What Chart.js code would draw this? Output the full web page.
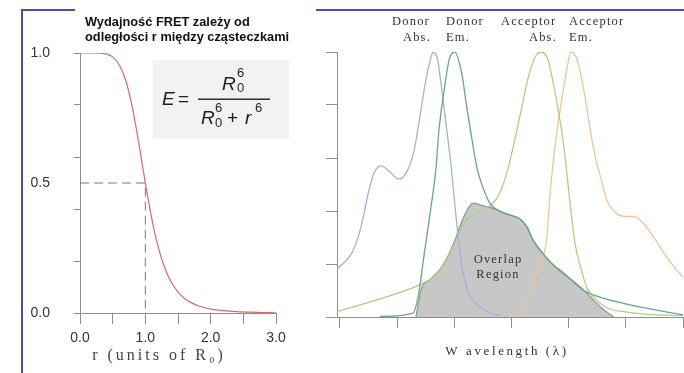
<!DOCTYPE html>
<html><head><meta charset="utf-8">
<script src="https://cdn.jsdelivr.net/npm/chart.js@4"></script>
<style>
html,body{margin:0;padding:0;background:#fff;width:684px;height:373px;overflow:hidden}
#left{position:absolute;left:0;top:0}
#right{position:absolute;left:316px;top:0}
</style></head><body>
<canvas id="left" width="320" height="373"></canvas>
<canvas id="right" width="368" height="373"></canvas>
<script>
// ---------- Left panel data (FRET efficiency vs distance) ----------
const effR = [0,0.2,0.3,0.4,0.5,0.6,0.7,0.8,0.9,1.0,1.1,1.2,1.3,1.4,1.5,1.6,1.7,1.8,1.9,2.0,2.2,2.4,2.6,2.8,3.0];
const effE = [1,1,0.999,0.996,0.985,0.955,0.895,0.792,0.653,0.5,0.361,0.251,0.172,0.117,0.081,0.056,0.040,0.029,0.021,0.015,0.009,0.005,0.003,0.002,0.001];
const halfX = [0,1,1];
const halfY = [0.5,0.5,0];
const leftXTicks = [0,0.5,1,1.5,2,2.5,3];
const leftXTickLabels = ['0.0','','1.0','','2.0','','3.0'];
const leftYTicks = [0,0.2,0.4,0.5,0.6,0.8,1];
const leftYTickLabels = ['0.0','','','0.5','','','1.0'];
const leftTitle = ['Wydajność FRET zależy od','odległości r między cząsteczkami'];
const leftXTitle = 'r (units of R\u2080)';

// ---------- Right panel data (spectra) ----------
const donorAbsX = [-0.05,0.23,0.37,0.51,0.59,0.72,0.86,1.03,1.15,1.29,1.38,1.50,1.57,1.63,1.68,1.71,1.82,1.94,2.05,2.15,2.27,2.40,2.50,2.62,2.80];
const donorAbsY = [0.18,0.25,0.34,0.48,0.54,0.57,0.55,0.52,0.54,0.62,0.73,0.89,0.96,1.0,0.99,0.97,0.79,0.58,0.34,0.17,0.08,0.045,0.03,0.015,0.005];
const donorEmX = [0.7,1.28,1.38,1.47,1.59,1.68,1.73,1.82,1.91,2.01,2.13,2.22,2.31,2.40,2.50,2.62,2.71,2.97,3.15,3.27,3.38,3.67,3.92,4.27,4.62,5.09,5.54,6.0];
const donorEmY = [0.002,0.015,0.09,0.23,0.41,0.56,0.70,0.85,0.97,1.0,0.92,0.79,0.67,0.56,0.49,0.43,0.41,0.385,0.37,0.34,0.29,0.21,0.165,0.10,0.07,0.045,0.026,0.008];
const accAbsX = [-0.05,0.80,1.38,1.68,1.85,2.03,2.19,2.45,2.68,2.80,2.94,3.06,3.18,3.29,3.41,3.52,3.64,3.76,3.88,3.95,4.02,4.11,4.22,4.32,4.44,4.67,4.97,5.37,6.0];
const accAbsY = [0.02,0.075,0.12,0.16,0.21,0.29,0.36,0.40,0.43,0.47,0.56,0.67,0.79,0.90,0.98,1.0,0.97,0.85,0.70,0.58,0.44,0.28,0.18,0.11,0.075,0.035,0.02,0.01,0.005];
const accEmX = [2.90,3.11,3.24,3.38,3.50,3.62,3.67,3.76,3.85,3.94,3.99,4.04,4.15,4.27,4.39,4.48,4.57,4.67,4.79,4.97,5.14,5.32,5.49,5.67,5.84,6.0];
const accEmY = [0.0,0.02,0.06,0.13,0.20,0.30,0.45,0.64,0.78,0.90,0.96,1.0,0.97,0.85,0.69,0.59,0.52,0.44,0.40,0.38,0.38,0.35,0.30,0.24,0.19,0.15];
const overlapX = [1.33,1.38,1.43,1.57,1.75,1.89,2.03,2.15,2.33,2.50,2.68,2.83,2.97,3.15,3.27,3.38,3.67,3.92,4.11,4.27,4.41,4.55,4.69,4.79];
const overlapY = [0,0.06,0.11,0.14,0.18,0.23,0.30,0.37,0.43,0.42,0.41,0.395,0.385,0.37,0.34,0.29,0.21,0.16,0.13,0.10,0.07,0.04,0.015,0];
const rightXTicks = [0,1,2,3,4,5,6];
const rightYTicks = [0,0.2,0.4,0.6,0.8,1];
const curveLabels = [
  {text:'Donor', x:76, y:25, align:'left'},
  {text:'Abs.', x:115, y:41, align:'right'},
  {text:'Donor', x:130, y:25, align:'left'},
  {text:'Em.', x:130, y:41, align:'left'},
  {text:'Acceptor', x:185, y:25, align:'left'},
  {text:'Abs.', x:241, y:41, align:'right'},
  {text:'Acceptor', x:253, y:25, align:'left'},
  {text:'Em.', x:253, y:41, align:'left'}
];
const overlapLabel = ['Overlap','Region'];
const rightXTitle = 'W avelength (\u03bb)';

const pts = (xs, ys) => xs.map((x, i) => ({x, y: ys[i]}));
const AX = '#8e8e8e';
const FRAME = '#4a4ab0';

// ---------- Left chart ----------
const leftDeco = {
  id: 'leftDeco',
  beforeDraw(chart) {
    const c = chart.ctx;
    c.save();
    c.fillStyle = FRAME;
    c.fillRect(21, 9, 2, 364);
    c.fillRect(21, 9, 54, 2);
    c.fillStyle = '#f2f2f2';
    c.fillRect(153, 60, 136, 79);
    c.restore();
  },
  afterDraw(chart) {
    const c = chart.ctx;
    c.save();
    c.letterSpacing = '0px';
    c.fillStyle = '#111';
    c.font = 'bold 12.8px "Liberation Sans", Arial, sans-serif';
    c.textAlign = 'left'; c.textBaseline = 'alphabetic';
    c.fillText(leftTitle[0], 85, 26);
    c.fillText(leftTitle[1], 85, 41);
    // formula
    c.fillStyle = '#1e1e1e';
    const it = 'italic 19px "Liberation Sans", Arial, sans-serif';
    const rg = '19px "Liberation Sans", Arial, sans-serif';
    const sm = '13px "Liberation Sans", Arial, sans-serif';
    c.font = it; c.fillText('E', 162, 105);
    c.font = rg; c.fillText('=', 178, 105);
    c.fillRect(198, 98.5, 72, 1.4);
    c.font = it; c.fillText('R', 222, 90);
    c.font = sm; c.fillText('6', 237, 77); c.fillText('0', 237, 92);
    c.font = it; c.fillText('R', 201, 124);
    c.font = sm; c.fillText('6', 215, 112); c.fillText('0', 215, 127);
    c.font = rg; c.fillText('+', 227, 124);
    c.font = it; c.fillText('r', 245, 124);
    c.font = sm; c.fillText('6', 255, 112);
    // x axis title
    c.fillStyle = '#444';
    c.font = '16px "Liberation Serif", "Times New Roman", serif';
    c.letterSpacing = '3px';
    c.textAlign = 'center'; c.textBaseline = 'middle';
    c.fillText(leftXTitle, 159, 356);
    c.restore();
  }
};

new Chart(document.getElementById('left'), {
  type: 'line',
  data: {
    datasets: [
      {data: pts(effR, effE), borderColor: '#cc6f6f', borderWidth: 1.2, pointRadius: 0, cubicInterpolationMode: 'monotone', fill: false},
      {data: pts(halfX, halfY), borderColor: '#7a7a7a', borderWidth: 1, borderDash: [9,5], pointRadius: 0, tension: 0, fill: false}
    ]
  },
  options: {
    responsive: false, animation: false, devicePixelRatio: 1,
    layout: {padding: {top: 53, left: 0, right: 44, bottom: 0}},
    plugins: {legend: {display: false}, tooltip: {enabled: false}},
    scales: {
      x: {
        type: 'linear', min: 0, max: 3,
        afterBuildTicks: s => { s.ticks = leftXTicks.map(v => ({value: v})); },
        afterFit: s => { s.height = 60; },
        ticks: {callback: v => leftXTickLabels[leftXTicks.indexOf(v)], color: '#333', font: {family: '"Liberation Sans", Arial, sans-serif', size: 14}, padding: 6, maxRotation: 0, autoSkip: false},
        grid: {drawOnChartArea: false, tickLength: 11, color: AX},
        border: {color: AX}
      },
      y: {
        type: 'linear', min: 0, max: 1,
        afterBuildTicks: s => { s.ticks = leftYTicks.map(v => ({value: v})); },
        afterFit: s => { s.width = 80; },
        ticks: {callback: v => leftYTickLabels[leftYTicks.indexOf(v)], color: '#333', font: {family: '"Liberation Sans", Arial, sans-serif', size: 14}, padding: 24, autoSkip: false},
        grid: {drawOnChartArea: false, tickLength: 6, tickColor: ctx => (ctx.tick && ctx.tick.value === 0.5) ? 'rgba(0,0,0,0)' : AX, color: AX},
        border: {color: AX}
      }
    }
  },
  plugins: [leftDeco]
});

// ---------- Right chart ----------
const rightDeco = {
  id: 'rightDeco',
  beforeDraw(chart) {
    const c = chart.ctx;
    c.save();
    c.fillStyle = FRAME;
    c.fillRect(0, 9, 368, 2);
    c.restore();
  },
  afterDraw(chart) {
    const c = chart.ctx;
    c.save();
    c.fillStyle = '#333';
    c.font = '12.5px "Liberation Serif", "Times New Roman", serif';
    c.letterSpacing = '1.2px';
    c.textBaseline = 'alphabetic';
    curveLabels.forEach(l => { c.textAlign = l.align; c.fillText(l.text, l.x, l.y); });
    c.textAlign = 'center'; c.textBaseline = 'middle';
    c.fillText(overlapLabel[0], 182, 260);
    c.fillText(overlapLabel[1], 182, 275);
    c.font = '13px "Liberation Serif", "Times New Roman", serif';
    c.letterSpacing = '2.6px';
    c.fillText(rightXTitle, 191, 352);
    c.restore();
  }
};

const lineDs = (xs, ys, color, order) => ({data: pts(xs, ys), borderColor: color, borderWidth: 1.3, pointRadius: 0, cubicInterpolationMode: 'monotone', fill: false, order});

new Chart(document.getElementById('right'), {
  type: 'line',
  data: {
    datasets: [
      {data: pts(overlapX, overlapY), borderColor: '#8a9c8e', borderWidth: 1.3, backgroundColor: '#c7c7c7', pointRadius: 0, cubicInterpolationMode: 'monotone', fill: 'origin', order: 10},
      lineDs(donorAbsX, donorAbsY, '#a2b1d8', 2),
      lineDs(donorEmX, donorEmY, '#6ea387', 1),
      lineDs(accAbsX, accAbsY, '#b2cc84', 3),
      lineDs(accEmX, accEmY, '#ecc49c', 4)
    ]
  },
  options: {
    responsive: false, animation: false, devicePixelRatio: 1,
    layout: {padding: {top: 52, left: 0, right: 1, bottom: 0}},
    plugins: {legend: {display: false}, tooltip: {enabled: false}},
    scales: {
      x: {
        type: 'linear', min: -0.05, max: 6,
        afterBuildTicks: s => { s.ticks = rightXTicks.map(v => ({value: v})); },
        afterFit: s => { s.height = 56; },
        ticks: {display: false},
        grid: {drawOnChartArea: false, tickLength: 11, color: AX},
        border: {color: AX}
      },
      y: {
        type: 'linear', min: 0, max: 1,
        afterBuildTicks: s => { s.ticks = rightYTicks.map(v => ({value: v})); },
        afterFit: s => { s.width = 21; },
        ticks: {display: false},
        grid: {drawOnChartArea: false, tickLength: 11, color: AX},
        border: {color: AX}
      }
    }
  },
  plugins: [rightDeco]
});
</script>
</body></html>
